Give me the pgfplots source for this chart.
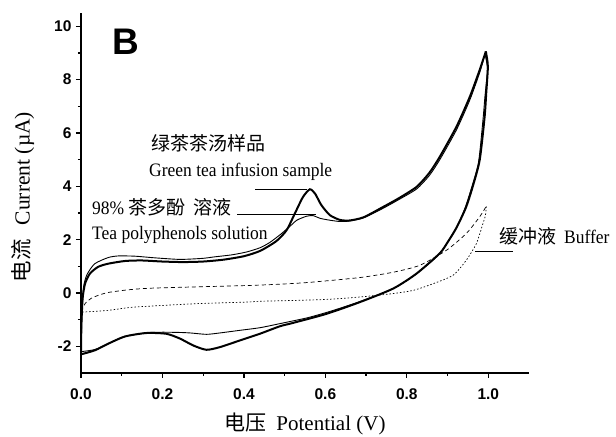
\documentclass[border=0pt]{standalone}
\usepackage{fontspec}
\usepackage{pgfplots}
\pgfplotsset{compat=1.18}
\setmainfont{Liberation Serif}
\newfontfamily\cjk{Noto Sans CJK SC}
\newfontfamily\tnr[FakeStretch=0.92]{Liberation Serif}
\newfontfamily\tickfont{Liberation Sans}
\newfontfamily\bigsans{Liberation Sans}

\begin{document}
\begin{tikzpicture}
\path[use as bounding box] (0,0) rectangle (616bp,437bp);
\begin{axis}[
  at={(81bp,64bp)}, anchor=south west,
  scale only axis, width=448bp, height=360bp,
  xmin=0, xmax=1.1, ymin=-3, ymax=10.5,
  axis x line*=bottom, axis y line*=left,
  axis line style={line width=1.5bp, -},
  xtick={0,0.2,0.4,0.6,0.8,1.0}, ytick={-2,0,2,4,6,8,10},
  minor x tick num=1, minor y tick num=1,
  tick align=outside,
  major tick length=5bp, minor tick length=3bp,
  every tick/.style={line width=1.2bp, black},
  /pgf/number format/assume math mode=true,
  tick label style={font=\tickfont\bfseries\fontsize{15.5bp}{18bp}\selectfont},
  x tick label style={yshift=-7bp, /pgf/number format/fixed, /pgf/number format/fixed zerofill, /pgf/number format/precision=1},
  y tick label style={xshift=-1bp},
  clip=false,
]
% green tea infusion sample, forward scan
\addplot[black, line width=2bp, smooth, tension=0.4] coordinates {
 (0,-2.30)(0.001,-1.2)(0.004,-0.2)(0.01,0.35)(0.022,0.73)(0.042,0.98)(0.067,1.10)
 (0.108,1.20)(0.149,1.22)(0.2,1.18)(0.25,1.16)(0.3,1.18)(0.35,1.25)(0.4,1.38)
 (0.44,1.58)(0.48,1.95)(0.505,2.36)(0.525,2.98)(0.545,3.6)(0.562,3.89)(0.575,3.72)
 (0.59,3.3)(0.611,2.92)(0.636,2.74)(0.66,2.72)(0.694,2.84)(0.741,3.22)(0.78,3.55)
 (0.824,3.98)(0.855,4.5)(0.881,5.11)(0.922,6.24)(0.955,7.37)(0.979,8.37)(0.994,9.06)};
% green tea infusion sample, reverse scan
\addplot[black, line width=2bp, smooth, tension=0.4] coordinates {
 (0.994,9.06)(0.999,8.5)(0.995,7.5)(0.991,6.6)(0.979,4.99)(0.962,4.0)(0.945,3.2)
 (0.922,2.45)(0.9,1.9)(0.881,1.49)(0.824,0.73)(0.767,0.17)(0.685,-0.34)(0.603,-0.78)
 (0.521,-1.12)(0.488,-1.25)(0.439,-1.53)(0.39,-1.78)(0.341,-2.03)(0.308,-2.13)
 (0.276,-1.97)(0.243,-1.71)(0.21,-1.53)(0.161,-1.50)(0.108,-1.63)(0.067,-1.90)
 (0.034,-2.15)(0,-2.30)};
% 98% tea polyphenols, forward scan
\addplot[black, line width=0.9bp, smooth, tension=0.4] coordinates {
 (0,-2.2)(0.002,-1)(0.006,0.2)(0.015,0.7)(0.034,1.1)(0.067,1.33)(0.092,1.39)
 (0.133,1.38)(0.18,1.32)(0.243,1.26)(0.3,1.3)(0.325,1.35)(0.37,1.43)(0.407,1.54)
 (0.44,1.7)(0.464,1.9)(0.49,2.2)(0.513,2.5)(0.53,2.73)(0.554,2.88)(0.57,2.9)
 (0.587,2.8)(0.611,2.73)(0.636,2.68)(0.66,2.7)(0.694,2.82)(0.741,3.17)(0.78,3.5)
 (0.824,3.9)(0.855,4.4)(0.881,5.0)(0.922,6.12)(0.955,7.25)(0.979,8.27)(0.992,8.95)};
% 98% tea polyphenols, reverse scan
\addplot[black, line width=0.9bp, smooth, tension=0.4] coordinates {
 (0.992,8.95)(0.998,8.4)(0.992,7.4)(0.987,6.5)(0.976,4.9)(0.958,3.9)(0.942,3.15)
 (0.92,2.4)(0.879,1.45)(0.822,0.7)(0.765,0.15)(0.685,-0.32)(0.62,-0.65)(0.58,-0.83)
 (0.55,-0.95)(0.488,-1.15)(0.44,-1.3)(0.39,-1.40)(0.34,-1.5)(0.308,-1.55)(0.27,-1.5)
 (0.243,-1.48)(0.2,-1.47)(0.161,-1.49)(0.108,-1.63)(0.067,-1.9)(0.034,-2.12)(0,-2.2)};
% buffer, forward scan
\addplot[black, line width=0.7bp, dash pattern=on 4bp off 3bp, smooth, tension=0.4] coordinates {
 (0,-0.7)(0.01,-0.4)(0.025,-0.2)(0.042,-0.09)(0.067,0.02)(0.116,0.12)(0.17,0.18)
 (0.284,0.23)(0.407,0.28)(0.488,0.33)(0.562,0.4)(0.685,0.58)(0.767,0.78)(0.832,1.04)
 (0.897,1.6)(0.946,2.23)(0.979,2.86)(0.995,3.25)};
% buffer, reverse scan
\addplot[black, line width=0.7bp, dash pattern=on 1.5bp off 2bp, smooth, tension=0.4] coordinates {
 (0.995,3.25)(0.993,2.9)(0.987,2.61)(0.971,1.86)(0.946,1.23)(0.914,0.67)(0.865,0.35)
 (0.816,0.1)(0.767,-0.02)(0.685,-0.15)(0.603,-0.24)(0.521,-0.28)(0.439,-0.31)
 (0.407,-0.34)(0.284,-0.4)(0.161,-0.5)(0.116,-0.55)(0.067,-0.65)(0,-0.72)};
\end{axis}

% panel letter
\node[inner sep=0, font=\bigsans\bfseries\fontsize{37bp}{40bp}\selectfont] at (126bp,395bp) {B};

% annotations
\node[anchor=west, inner sep=0, font=\cjk\fontsize{19bp}{22bp}\selectfont] at (151bp,294bp) {绿茶茶汤样品};
\node[anchor=west, inner sep=0, font=\tnr\fontsize{19bp}{22bp}\selectfont] at (149bp,265bp) {Green tea infusion sample};
\draw[line width=0.9bp] (255bp,248bp) -- (307bp,248bp);
\node[anchor=west, inner sep=0, font=\tnr\fontsize{19bp}{22bp}\selectfont] at (92bp,230bp) {98\%\hspace{4bp}{\cjk 茶多酚\hspace{8bp}溶液}};
\draw[line width=0.9bp] (237bp,222.5bp) -- (316bp,222.5bp);
\node[anchor=west, inner sep=0, font=\tnr\fontsize{19bp}{22bp}\selectfont] at (92bp,202bp) {Tea polyphenols solution};
\node[anchor=west, inner sep=0, font=\tnr\fontsize{19bp}{22bp}\selectfont] at (499bp,201bp) {{\cjk 缓冲液}\hspace{8bp}Buffer};
\draw[line width=0.9bp] (475bp,185.3bp) -- (513bp,185.3bp);

% axis titles
\node[inner sep=0, rotate=90, font=\rmfamily\fontsize{21.5bp}{24bp}\selectfont] at (23bp,240bp) {{\cjk 电流}\hspace{14bp}Current (µA)};
\node[inner sep=0, font=\rmfamily\fontsize{21bp}{24bp}\selectfont] at (305bp,13bp) {{\cjk 电压}\hspace{10bp}Potential (V)};
\end{tikzpicture}
\end{document}
